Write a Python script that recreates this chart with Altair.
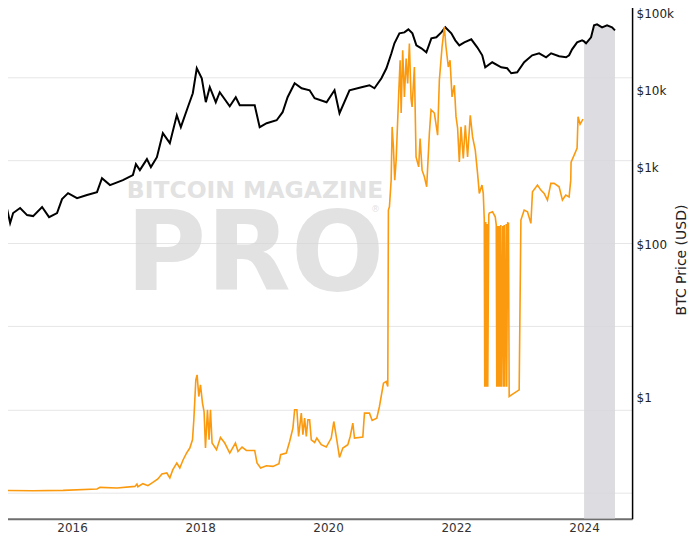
import altair as alt
import numpy as np
import pandas as pd

# ---------------- data ----------------
btc_year = [2014.877, 2014.955, 2015.033, 2015.080, 2015.189, 2015.298, 2015.392, 2015.532,
            2015.641, 2015.766, 2015.844, 2015.938, 2016.078, 2016.234, 2016.390, 2016.468,
            2016.593, 2016.795, 2016.951, 2016.998, 2017.060, 2017.170, 2017.232, 2017.326,
            2017.419, 2017.528, 2017.637, 2017.700, 2017.809, 2017.887, 2017.949, 2018.027,
            2018.090, 2018.152, 2018.246, 2018.308, 2018.464, 2018.558, 2018.620, 2018.854,
            2018.932, 2019.041, 2019.197, 2019.290, 2019.368, 2019.478, 2019.587, 2019.712,
            2019.790, 2019.977, 2020.101, 2020.179, 2020.335, 2020.522, 2020.647, 2020.725,
            2020.834, 2020.912, 2020.990, 2021.037, 2021.115, 2021.193, 2021.255, 2021.318,
            2021.380, 2021.458, 2021.536, 2021.614, 2021.692, 2021.770, 2021.832, 2021.926,
            2021.988, 2022.051, 2022.129, 2022.238, 2022.331, 2022.409, 2022.456, 2022.565,
            2022.706, 2022.799, 2022.862, 2022.955, 2023.064, 2023.189, 2023.298, 2023.407,
            2023.485, 2023.610, 2023.719, 2023.766, 2023.813, 2023.891, 2023.969, 2024.000,
            2024.031, 2024.109, 2024.156, 2024.203, 2024.281, 2024.359, 2024.437, 2024.483]
btc_price = [396, 373, 188, 253, 294, 238, 231, 303,
             224, 253, 385, 460, 396, 434, 474, 721,
             585, 680, 789, 1097, 917, 1275, 1003, 1353,
             2776, 2058, 4760, 3322, 6050, 9200, 19450, 14420,
             7030, 11010, 7030, 9480, 6230, 8160, 6420, 6420,
             3322, 3740, 4095, 5210, 8160, 12410, 10680, 10060,
             7920, 7030, 10060, 5055, 10060, 11010, 11690, 10680,
             14420, 19450, 30470, 41100, 55450, 57100, 62500, 55450,
             38700, 35400, 31400, 47700, 49200, 57100, 66400, 55450,
             44950, 38700, 42350, 46300, 36450, 28700, 20030, 23270,
             20030, 19450, 16740, 17250, 23270, 28700, 30470, 27040,
             30470, 27860, 27040, 28700, 34350, 42350, 44950, 43500,
             41100, 49200, 70450, 72600, 66400, 70450, 66400, 60650]

metric_year = [2014.877, 2015.392, 2015.860, 2016.390, 2016.437, 2016.702, 2016.982, 2017.014,
               2017.029, 2017.107, 2017.185, 2017.263, 2017.341, 2017.404, 2017.481, 2017.528,
               2017.575, 2017.637, 2017.684, 2017.736, 2017.789, 2017.840, 2017.882, 2017.903,
               2017.934, 2017.954, 2017.981, 2018.007, 2018.038, 2018.063, 2018.085, 2018.116,
               2018.141, 2018.163, 2018.188, 2018.257, 2018.319, 2018.386, 2018.464, 2018.553,
               2018.593, 2018.656, 2018.724, 2018.854, 2018.890, 2018.947, 2019.036, 2019.139,
               2019.233, 2019.259, 2019.348, 2019.400, 2019.451, 2019.478, 2019.513, 2019.540,
               2019.582, 2019.607, 2019.634, 2019.660, 2019.685, 2019.712, 2019.738, 2019.790,
               2019.825, 2019.894, 2019.972, 2020.050, 2020.090, 2020.128, 2020.179, 2020.231,
               2020.309, 2020.346, 2020.387, 2020.413, 2020.543, 2020.569, 2020.647, 2020.689,
               2020.761, 2020.803, 2020.866, 2020.908, 2020.933, 2020.943, 2020.959, 2020.986,
               2021.001, 2021.021, 2021.042, 2021.064, 2021.104, 2021.126, 2021.142, 2021.166,
               2021.193, 2021.220, 2021.244, 2021.271, 2021.297, 2021.313, 2021.349, 2021.375,
               2021.416, 2021.438, 2021.469, 2021.505, 2021.541, 2021.583, 2021.609, 2021.661,
               2021.712, 2021.739, 2021.781, 2021.817, 2021.843, 2021.879, 2021.906, 2021.937,
               2021.973, 2021.999, 2022.024, 2022.051, 2022.077, 2022.113, 2022.144, 2022.180,
               2022.222, 2022.258, 2022.300, 2022.336, 2022.363, 2022.405, 2022.425, 2022.441,
               2022.448, 2022.464, 2022.472, 2022.487, 2022.495, 2022.511, 2022.519, 2022.570,
               2022.612, 2022.628, 2022.636, 2022.651, 2022.659, 2022.674, 2022.682, 2022.698,
               2022.706, 2022.729, 2022.737, 2022.752, 2022.760, 2022.784, 2022.791, 2022.807,
               2022.819, 2022.830, 2022.908, 2022.986, 2023.013, 2023.064, 2023.116, 2023.169,
               2023.194, 2023.272, 2023.325, 2023.376, 2023.428, 2023.481, 2023.532, 2023.610,
               2023.662, 2023.714, 2023.766, 2023.792, 2023.797, 2023.867, 2023.891, 2023.906,
               2023.938, 2023.984]
metric_value = [1.066, 1.057, 1.066, 1.108, 1.158, 1.139, 1.190, 1.272,
                1.180, 1.283, 1.214, 1.330, 1.461, 1.677, 1.724, 1.502,
                1.889, 2.274, 1.980, 2.491, 2.998, 3.443, 4.331, 7.53,
                22.76, 26.14, 14.34, 19.82, 11.95, 9.47, 3.443, 9.93,
                4.331, 9.93, 3.954, 3.285, 4.615, 3.954, 2.998, 3.954,
                3.133, 3.539, 3.221, 3.221, 2.274, 1.980, 2.110, 2.070,
                2.230, 2.860, 2.998, 4.132, 5.985, 9.93, 9.93, 4.745,
                9.06, 4.972, 7.89, 4.745, 7.53, 7.53, 4.331, 4.019,
                4.539, 3.772, 3.539, 4.539, 7.18, 4.745, 2.655, 3.443,
                3.772, 4.745, 6.87, 4.539, 4.667, 9.06, 9.06, 7.39,
                7.89, 10.88, 20.78, 21.72, 18.91, 2506, 2746, 5745,
                25090, 14430, 5745, 9990, 63180, 158700, 36850, 209300,
                57510, 166300, 83300, 251900, 54420, 43620, 131900, 10940,
                8300, 18200, 7574, 6295, 4772, 20900, 40380, 36850,
                19940, 91300, 229300, 398700, 229300, 131900, 158700, 57510,
                79500, 33550, 24340, 9530, 25090, 10440, 26300, 10940,
                34680, 19030, 13170, 6918, 3977, 5003, 3977, 1901,
                18.76, 1798, 18.76, 1701, 18.76, 2183, 2307, 2391,
                2082, 1655, 18.76, 1610, 18.76, 1610, 18.76, 1655,
                18.76, 1610, 18.76, 1655, 18.76, 1701, 18.76, 1750,
                1735, 14.34, 15.76, 17.27, 1901, 2506, 2391, 1735,
                4157, 5003, 4358, 3977, 3305, 5244, 5244, 4772,
                3305, 3794, 3600, 5745, 9452, 12570, 13920, 33270,
                27040, 31040]

x_tick_years = [2016, 2018, 2020, 2022, 2024]
btc_tick_values = [1, 100, 1000, 10000, 100000]
grid_values = [1, 10, 100, 1000, 10000, 100000]
highlight_start_year = 2024.0
watermark_small = ["BITCOIN MAGAZINE"]
watermark_big = ["PRO"]
watermark_reg = ["®"]

BTC_DOMAIN = [0.0265, 148900]
METRIC_DOMAIN = [0.4873, 833700]


def to_date(years):
    years = np.asarray(years, dtype=float)
    return pd.Timestamp("2016-01-01") + pd.to_timedelta((years - 2016.0) * 365.25, unit="D")


btc = pd.DataFrame({"date": to_date(btc_year), "price": btc_price})
metric = pd.DataFrame({"date": to_date(metric_year), "value": metric_value})
shade = btc[btc["date"] >= to_date([highlight_start_year])[0]].copy()

FONT = "DejaVu Sans"
WM_COLOR = "#d6d6d6"

x_enc = alt.X(
    "date:T",
    scale=alt.Scale(domain=[alt.DateTime(year=2014, month=11, date=16),
                            alt.DateTime(year=2024, month=10, date=1)]),
    axis=alt.Axis(values=[alt.DateTime(year=y, month=1, date=1) for y in x_tick_years],
                  format="%Y", title=None, grid=False, ticks=False,
                  domainColor="#6e6e6e", domainWidth=2, labelPadding=4,
                  labelFont=FONT, labelFontSize=12, labelColor="#333333",
                  labelFlush=False, labelOverlap=False),
)

btc_y = alt.Y(
    "price:Q",
    scale=alt.Scale(type="log", domain=BTC_DOMAIN, nice=False),
    axis=alt.Axis(orient="right", values=btc_tick_values,
                  labelExpr="datum.value >= 1000 ? '$' + (datum.value / 1000) + 'k' : '$' + datum.value",
                  title="BTC Price (USD)", grid=False, ticks=False,
                  domainColor="#000000", domainWidth=1.5, labelPadding=4,
                  labelFont=FONT, labelFontSize=12, labelColor="#222222",
                  titleFont=FONT, titleFontSize=14, titleFontWeight="normal",
                  titleColor="#222222", titleAngle=270, titleX=49, titleY=259.5,
                  titleAlign="center", titleBaseline="middle"),
)

wm1 = alt.Chart(pd.DataFrame({"t": watermark_small})).mark_text(
    font=FONT, fontWeight="bold", fontSize=23.5, color=WM_COLOR, opacity=0.7,
    align="left", baseline="alphabetic"
).encode(x=alt.value(127), y=alt.value(198), text="t:N")

wm2 = alt.Chart(pd.DataFrame({"t": watermark_big})).mark_text(
    font=FONT, fontWeight="bold", fontSize=110, color=WM_COLOR, opacity=0.7,
    align="left", baseline="alphabetic"
).encode(x=alt.value(126), y=alt.value(290), text="t:N")

wm3 = alt.Chart(pd.DataFrame({"t": watermark_reg})).mark_text(
    font=FONT, fontSize=9, color=WM_COLOR, opacity=0.7, align="center", baseline="middle"
).encode(x=alt.value(376), y=alt.value(209), text="t:N")

area = alt.Chart(shade).mark_area(color="#d7d7dc", opacity=0.85, clip=True).encode(
    x=x_enc, y=btc_y, y2=alt.datum(BTC_DOMAIN[0])
)

black = alt.Chart(btc).mark_line(color="#000000", strokeWidth=2, clip=True).encode(
    x=x_enc, y=btc_y
)

orange = alt.Chart(metric).mark_line(color="#fb9a0e", strokeWidth=1.6, clip=True).encode(
    x=x_enc,
    y=alt.Y("value:Q", scale=alt.Scale(type="log", domain=METRIC_DOMAIN, nice=False),
            axis=alt.Axis(orient="left", values=grid_values, labels=False, ticks=False,
                          domain=False, title=None, grid=True, gridColor="#e6e6e6",
                          gridWidth=1, minExtent=0)),
)

btc_layer = alt.layer(wm1, wm2, wm3, area, black)

chart = alt.layer(btc_layer, orange).resolve_scale(y="independent").properties(
    width=633, height=519,
    padding={"left": -8, "top": -8, "right": 0, "bottom": 0},
).configure_view(stroke=None)

chart.save("out.html", embed_options={"renderer": "svg", "actions": False})
